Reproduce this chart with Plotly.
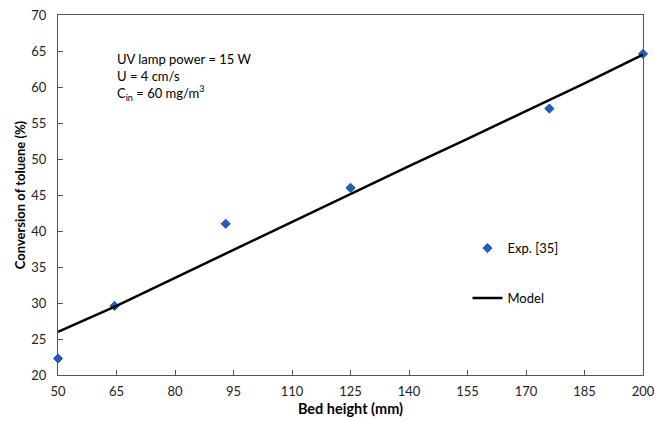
import plotly.graph_objects as go

exp_x = [50, 64.5, 93, 125, 176, 200]
exp_y = [22.3, 29.6, 41.0, 46.0, 57.0, 64.6]

model_x = [50, 65, 80, 95, 110, 125, 140, 155, 170, 185, 200]
model_y = [26.0, 29.6, 33.5, 37.4, 41.3, 45.2, 49.0, 52.8, 56.6, 60.5, 64.5]

x_ticks = [50, 65, 80, 95, 110, 125, 140, 155, 170, 185, 200]
y_ticks = [20, 25, 30, 35, 40, 45, 50, 55, 60, 65, 70]

FONT = "Lato, Open Sans, sans-serif"

fig = go.Figure()
fig.add_trace(go.Scatter(
    x=exp_x, y=exp_y, mode="markers", name="Exp. [35]",
    legendgroup="a",
    marker=dict(symbol="diamond", size=7, color="#1f5fc4",
                line=dict(color="#1a4aa0", width=1)),
    cliponaxis=False,
))
fig.add_trace(go.Scatter(
    x=model_x, y=model_y, mode="lines", name="Model",
    legendgroup="b",
    line=dict(color="black", width=2.5),
))

fig.add_annotation(
    x=0.098, y=0.905, xref="paper", yref="paper", xanchor="left", yanchor="top",
    align="left", showarrow=False,
    text="UV lamp power = 15 W<br>U = 4 cm/s<br>C<sub>in</sub> = 60 mg/m<sup>3</sup>",
    font=dict(family=FONT, size=13, color="black"),
)

axis_common = dict(
    showgrid=False, zeroline=False, showline=True, mirror=True,
    linecolor="#555555", linewidth=1.3, ticks="inside", ticklen=5,
    tickcolor="#555555", tickfont=dict(family=FONT, size=13, color="#222222"),
    automargin=False,
)

fig.update_xaxes(range=[50, 200], tickvals=x_ticks, ticklabelstandoff=4,
                 title=dict(text="<b>Bed height (mm)</b>", standoff=6,
                            font=dict(family=FONT, size=14.5, color="black")),
                 **axis_common)
fig.update_yaxes(range=[20, 70], tickvals=y_ticks, ticklabelstandoff=8,
                 title=dict(text="<b>Conversion of toluene (%)</b>", standoff=2,
                            font=dict(family=FONT, size=13, color="black")),
                 **axis_common)

fig.update_layout(
    width=655, height=421,
    margin=dict(l=58, r=12, t=15, b=46),
    paper_bgcolor="white", plot_bgcolor="white",
    font=dict(family=FONT, size=13, color="black"),
    legend=dict(x=0.7, y=0.394, xanchor="left", yanchor="top",
                tracegroupgap=30, traceorder="grouped",
                bgcolor="rgba(0,0,0,0)", font=dict(family=FONT, size=13)),
)

fig.write_html("out.html")
